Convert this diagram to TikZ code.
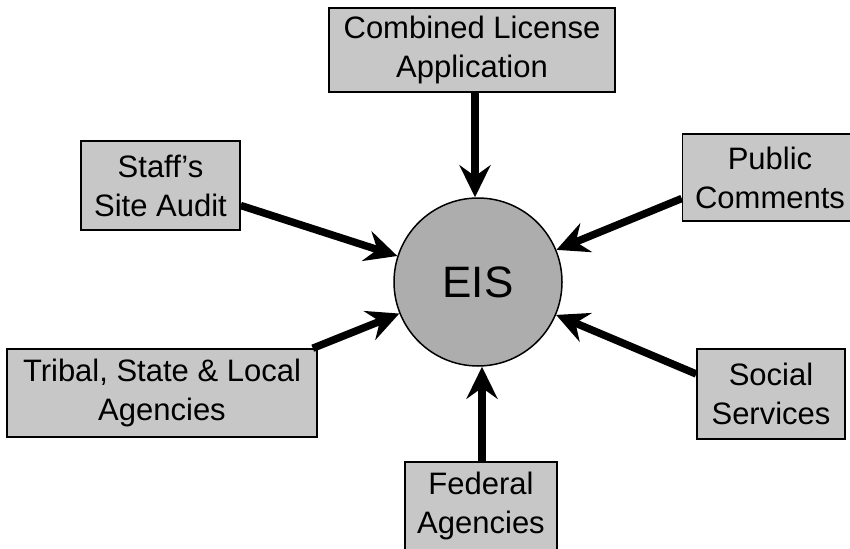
\documentclass[tikz,border=0pt]{standalone}
\usepackage{fontspec}
\setmainfont{Liberation Sans}
\usetikzlibrary{arrows.meta}
\tikzset{
  srcbox/.style={draw=black, line width=1.5pt, fill=black!22, inner sep=0pt,
    align=center, font=\fontsize{31}{39}\selectfont},
  hub/.style={circle, draw=black, line width=1.5pt, fill=black!32, inner sep=0pt,
    minimum size=168pt, font=\fontsize{44}{50}\selectfont},
  feed/.style={line width=7.5pt, -{Stealth[length=32pt,width=31pt,inset=11pt]}}
}
\begin{document}
\begin{tikzpicture}[x=1pt,y=-1pt]
\useasboundingbox (0,0) rectangle (850,548);
\clip (0,0) rectangle (850,548);
\fill[white] (0,0) rectangle (850,548);

\node[srcbox, minimum width=286pt, minimum height=84pt] (comb) at (472,50) {Combined License\\Application};
\node[srcbox, minimum width=159pt, minimum height=89pt] (staff) at (160.5,185.5) {Staff's\\Site Audit};
\node[srcbox, minimum width=175pt, minimum height=87pt] (pub) at (770,177.5) {Public\\Comments};
\node[srcbox, minimum width=310pt, minimum height=88pt] (tribal) at (162,393) {Tribal, State \& Local\\Agencies};
\node[srcbox, minimum width=148pt, minimum height=90pt] (social) at (771,394) {Social\\Services};
\node[srcbox, minimum width=152pt, minimum height=88pt] (fed) at (481,506) {Federal\\Agencies};

\node[hub] (eis) at (478,282) {EIS};

\draw[feed] ([xshift=-3pt]eis.north |- comb.south) -- ([xshift=-3pt]eis.north);
\draw[feed] ([yshift=-20pt]staff.east) -- (eis);
\draw[feed] ([yshift=-21pt]pub.west) -- (eis);
\draw[feed] ([xshift=-5pt]tribal.north east) -- (eis);
\draw[feed] ([yshift=20pt]social.west) -- (eis);
\draw[feed] ([xshift=4pt]eis.south |- fed.north) -- ([xshift=4pt]eis.south);
\end{tikzpicture}
\end{document}
